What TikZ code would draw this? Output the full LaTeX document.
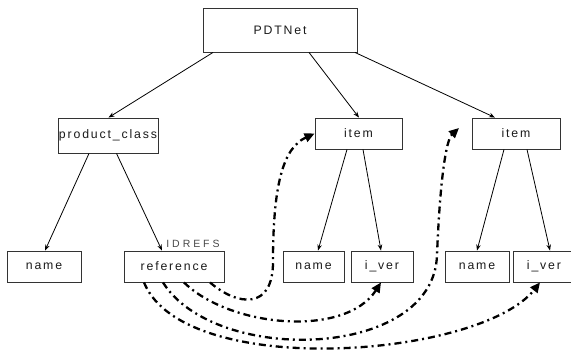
\documentclass[tikz,border=0pt]{standalone}
\usepackage{fontspec}
\setmainfont{Liberation Sans}[LetterSpace=15]
\newfontfamily\idfont{Liberation Sans}[LetterSpace=28]
\usetikzlibrary{arrows.meta}
\definecolor{boxline}{HTML}{333333}
\definecolor{txt}{HTML}{1A1A1A}
\begin{document}
\begin{tikzpicture}[x=1pt,y=-1pt,
  box/.style={draw=boxline,line width=0.9pt,inner sep=0pt,font=\fontsize{12.3}{14}\selectfont,text=txt},
  edge/.style={line width=0.8pt,-{Stealth[length=6pt,width=4.5pt]}},
  refarrow/.style={line width=2.3pt,dash pattern=on 7pt off 4pt on 2pt off 4pt,-{Triangle[length=10pt,width=9pt]}}]
\useasboundingbox (0,0) rectangle (571,351);
\node[box,minimum width=154pt,minimum height=44pt] (pdt) at (280,30) {PDTNet};
\node[box,minimum width=100pt,minimum height=35pt] (pc) at (108,135.5) {product\_class};
\node[box,minimum width=87pt,minimum height=31pt] (it1) at (358.5,133.5) {item};
\node[box,minimum width=88pt,minimum height=31pt] (it2) at (516,133.5) {item};
\node[box,minimum width=74pt,minimum height=31pt] (n1) at (44,266.5) {name};
\node[box,minimum width=100pt,minimum height=31pt] (ref) at (174,266.5) {reference};
\node[box,minimum width=61pt,minimum height=31pt] (n2) at (313.5,266.5) {name};
\node[box,minimum width=62pt,minimum height=31pt] (iv1) at (382,266.5) {i\_ver};
\node[box,minimum width=64pt,minimum height=31pt] (n3) at (477,266.5) {name};
\node[box,minimum width=62pt,minimum height=31pt] (iv2) at (544,266.5) {i\_ver};
\node[font=\idfont\fontsize{10.5}{12}\selectfont,text=txt!80,inner sep=0pt] (idr) at (193,243.5) {IDREFS};
% tree edges
\draw[edge] ([xshift=-67pt]pdt.south) -- ([xshift=0.5pt]pc.north);
\draw[edge] ([xshift=29pt]pdt.south) -- ([xshift=0.5pt]it1.north);
\draw[edge] ([xshift=75pt]pdt.south) -- ([xshift=-21pt]it2.north);
\draw[edge] ([xshift=-19pt]pc.south) -- ([xshift=1pt]n1.north);
\draw[edge] ([xshift=8.5pt]pc.south) -- ([xshift=-12pt]ref.north);
\draw[edge] ([xshift=-11.5pt]it1.south) -- ([xshift=4.5pt]n2.north);
\draw[edge] ([xshift=4.5pt]it1.south) -- ([xshift=-1pt]iv1.north);
\draw[edge] ([xshift=-12pt]it2.south) -- (n3.north);
\draw[edge] ([xshift=11pt]it2.south) -- ([xshift=6pt]iv2.north);
% reference curves
\draw[refarrow] ([xshift=36pt]ref.south) .. controls +(28,24) and (273,310) .. (273,262)
   .. controls (273,185) and (283,148) .. (it1.west);
\draw[refarrow] ([xshift=10pt]ref.south) .. controls +(46,45) and (345,338) .. ([xshift=-1pt]iv1.south);
\draw[refarrow] ([xshift=-11pt]ref.south) .. controls +(52,83) and (434,360) .. (437,255)
   .. controls (440,180) and (446,140) .. (459,128);
\draw[refarrow] ([xshift=-30pt]ref.south) .. controls +(40,98) and (480,358) .. ([xshift=-4pt]iv2.south);
\end{tikzpicture}
\end{document}
